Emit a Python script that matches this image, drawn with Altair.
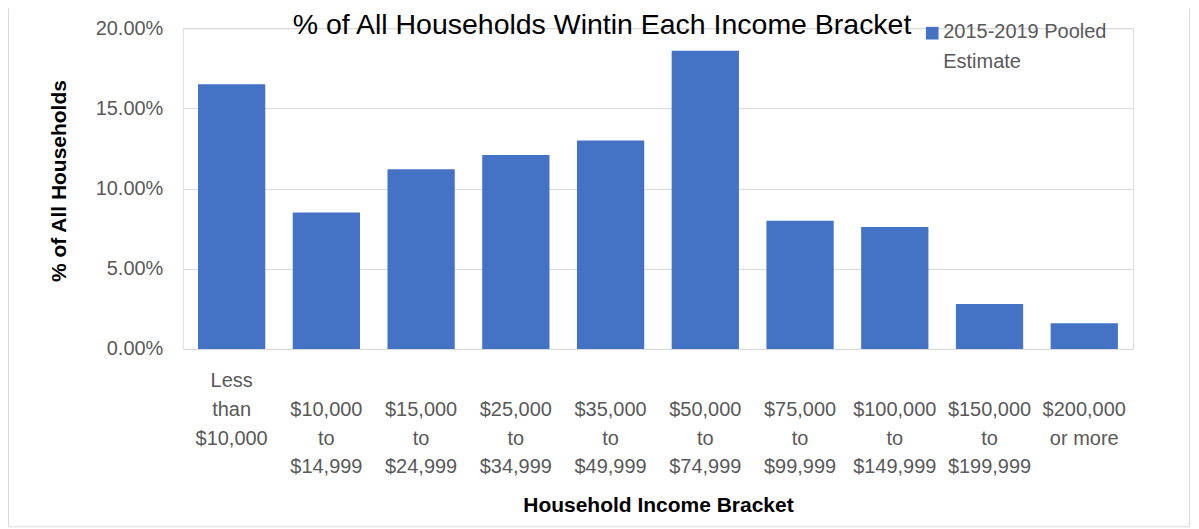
import altair as alt
import pandas as pd

# ---- data ----
categories = [
    "Less than $10,000", "$10,000 to $14,999", "$15,000 to $24,999",
    "$25,000 to $34,999", "$35,000 to $49,999", "$50,000 to $74,999",
    "$75,000 to $99,999", "$100,000 to $149,999", "$150,000 to $199,999",
    "$200,000 or more",
]
tick_labels = [
    "Less|than|$10,000",
    "\u00a0|$10,000|to|$14,999",
    "\u00a0|$15,000|to|$24,999",
    "\u00a0|$25,000|to|$34,999",
    "\u00a0|$35,000|to|$49,999",
    "\u00a0|$50,000|to|$74,999",
    "\u00a0|$75,000|to|$99,999",
    "\u00a0|$100,000|to|$149,999",
    "\u00a0|$150,000|to|$199,999",
    "\u00a0|$200,000|or more",
]
shares = [0.165, 0.085, 0.112, 0.121, 0.130, 0.186, 0.080, 0.076, 0.028, 0.016]
series_name_lines = ["2015-2019 Pooled", "Estimate"]
y_ticks = [0.0, 0.05, 0.10, 0.15, 0.20]

df = pd.DataFrame({"category": categories, "label": tick_labels, "share": shares})

# ---- style ----
W, H = 951, 321
FONT = "Liberation Sans"
GRAY = "#595959"
GRID = "#D9D9D9"
BLUE = "#4472C4"

bars = alt.Chart(df).mark_bar(color=BLUE).encode(
    x=alt.X(
        "label:N", sort=None, title="Household Income Bracket",
        scale=alt.Scale(paddingInner=0.29, paddingOuter=0.16),
        axis=alt.Axis(
            labelAngle=0, labelExpr="split(datum.label, '|')",
            labelFont=FONT, labelFontSize=20, labelColor=GRAY,
            labelLineHeight=28.7, labelBaseline="line-top", labelPadding=18,
            labelLimit=300, ticks=False, tickSize=0, domain=False, grid=False,
            titleFont=FONT, titleFontSize=21, titleFontWeight="bold",
            titleColor="black", titleY=157, titleBaseline="middle",
        ),
    ),
    y=alt.Y(
        "share:Q", title="% of All Households",
        scale=alt.Scale(domain=[0, 0.2], nice=False),
        axis=alt.Axis(
            values=y_ticks, format=".2%",
            labelFont=FONT, labelFontSize=20, labelColor=GRAY, labelPadding=20,
            ticks=False, tickSize=0, domain=False,
            grid=True, gridColor=GRID, gridWidth=1,
            titleFont=FONT, titleFontSize=21, titleFontWeight="bold",
            titleColor="black", titleX=-123, titleY=152.5,
            titleBaseline="middle", titleAlign="center",
        ),
    ),
    tooltip=[alt.Tooltip("category:N"), alt.Tooltip("share:Q", format=".2%")],
)

one = pd.DataFrame({"k": [0]})

legend_sq = alt.Chart(one).mark_square(size=160, color=BLUE, opacity=1).encode(
    x=alt.value(750), y=alt.value(5)
)
legend_txt = alt.Chart(one).mark_text(
    align="left", baseline="line-top", lineHeight=30,
    font=FONT, fontSize=20, color=GRAY,
).encode(x=alt.value(761), y=alt.value(-11), text=alt.value(series_name_lines))

left_border = alt.Chart(one).mark_rule(color=GRID, strokeWidth=1).encode(
    x=alt.value(-174.5), y=alt.value(-20), y2=alt.value(499)
)
right_border = alt.Chart(one).mark_rule(color=GRID, strokeWidth=1).encode(
    x=alt.value(1007.5), y=alt.value(-20), y2=alt.value(499)
)
bottom_border = alt.Chart(one).mark_rule(color=GRID, strokeWidth=1).encode(
    x=alt.value(-174.5), x2=alt.value(1007.5), y=alt.value(499)
)

chart = alt.layer(
    bars, legend_sq, legend_txt, left_border, right_border, bottom_border
).properties(
    width=W, height=H,
    autosize=alt.AutoSizeParams(type="none"),
    padding={"left": 175, "top": 20, "right": 58, "bottom": 179},
    title=alt.TitleParams(
        text="% of All Households Wintin Each Income Bracket",
        font=FONT, fontSize=28.5, fontWeight="normal", color="black",
        anchor="middle", frame="group", dx=-56, offset=0, dy=32,
    ),
).configure_view(stroke="transparent").configure(background="white")

chart.save("out.html", embed_options={"renderer": "svg", "actions": False})
